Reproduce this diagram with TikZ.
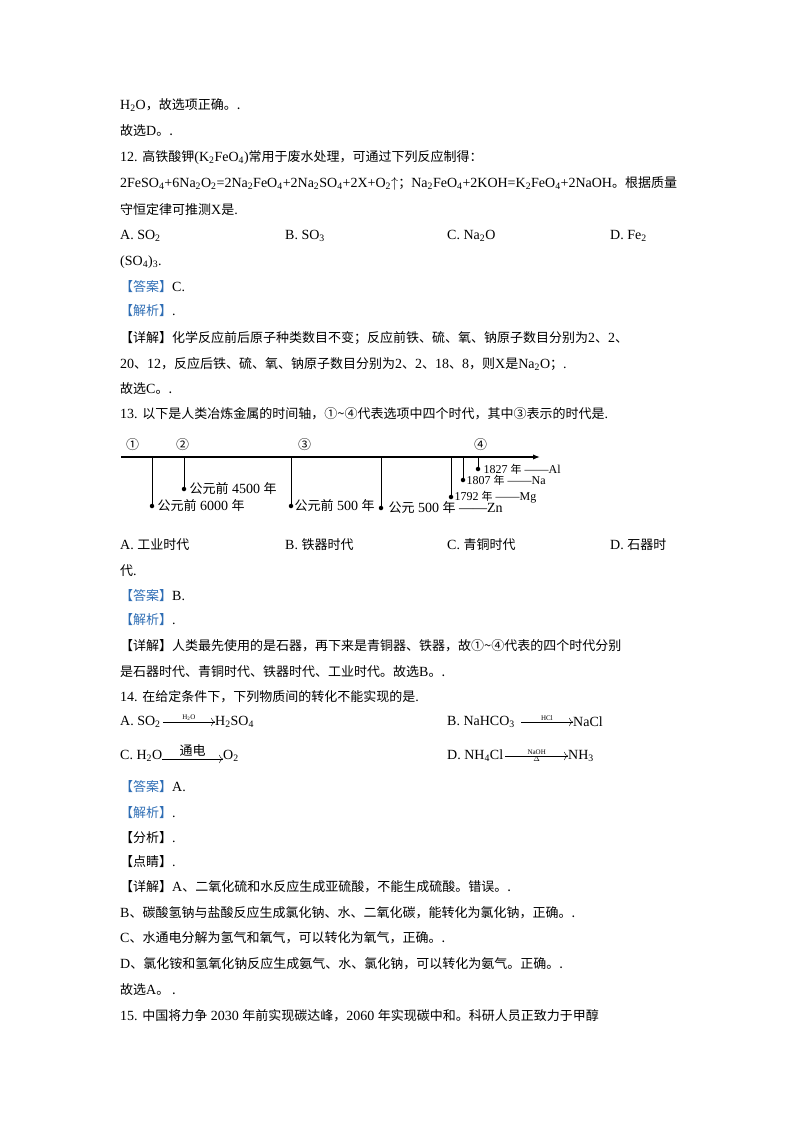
\documentclass[tikz,border=0pt]{standalone}
\usepackage{fontspec}
\usetikzlibrary{arrows.meta,positioning}
\setmainfont{Liberation Serif}
\newfontfamily\cjk{Noto Sans CJK SC}
\newcommand{\zh}[1]{{\cjk\fontsize{13}{15}\selectfont #1}}
\newcommand{\zhs}[1]{{\cjk\fontsize{11}{12}\selectfont #1}}
\newcommand{\lsub}[1]{\textsubscript{#1}}
\definecolor{ansblue}{HTML}{2E6DB4}
\begin{document}
\begin{tikzpicture}[x=1pt,y=-1pt,
  txt/.style={anchor=west,inner sep=0pt,font=\fontsize{14}{16}\selectfont},
  tl/.style={anchor=west,inner sep=0pt,font=\fontsize{14}{15}\selectfont},
  tls/.style={anchor=west,inner sep=0pt,font=\fontsize{12}{12}\selectfont},
  tick/.style={line width=1pt},
  dotm/.style={circle,fill=black,inner sep=0pt,minimum size=4.5pt},
  small/.style={inner sep=1pt,font=\fontsize{7}{8}\selectfont}]
\useasboundingbox (0,0) rectangle (800,1132);
\node[txt] (l1) at (120,105) {H\lsub{2}O\zh{，故选项正确。.}};
\node[txt] (l2) at (120,131) {\zh{故选}D\zh{。.}};
\node[txt] (l3) at (120,157) {12. \zh{高铁酸钾}(K\lsub{2}FeO\lsub{4})\zh{常用于废水处理，可通过下列反应制得：}};
\node[txt] (l4) at (120,183) {2FeSO\lsub{4}+6Na\lsub{2}O\lsub{2}=2Na\lsub{2}FeO\lsub{4}+2Na\lsub{2}SO\lsub{4}+2X+O\lsub{2}$\uparrow$\zh{；}Na\lsub{2}FeO\lsub{4}+2KOH=K\lsub{2}FeO\lsub{4}+2NaOH\zh{。根据质量}};
\node[txt] (l5) at (120,210) {\zh{守恒定律可推测}X\zh{是}.};
\node[txt] (o1) at (120,236) {A. SO\lsub{2}};
\node[txt] (o2) at (285,236) {B. SO\lsub{3}};
\node[txt] (o3) at (447,236) {C. Na\lsub{2}O};
\node[txt] (o4) at (610,236) {D. Fe\lsub{2}};
\node[txt] (l6) at (120,262) {(SO\lsub{4})\lsub{3}.};
\node[txt] (l7) at (120,287) {\zh{\color{ansblue}【答案】}C.};
\node[txt] (l8) at (120,311) {\zh{\color{ansblue}【解析】}.};
\node[txt] (l9) at (120,338) {\zh{【详解】化学反应前后原子种类数目不变；反应前铁、硫、氧、钠原子数目分别为}2\zh{、}2\zh{、}};
\node[txt] (l10) at (120,364) {20\zh{、}12\zh{，反应后铁、硫、氧、钠原子数目分别为}2\zh{、}2\zh{、}18\zh{、}8\zh{，则}X\zh{是}Na\lsub{2}O\zh{；}.};
\node[txt] (l11) at (120,389) {\zh{故选}C\zh{。.}};
\node[txt] (l12) at (120,414) {13. \zh{以下是人类冶炼金属的时间轴，①\textasciitilde④代表选项中四个时代，其中③表示的时代是}.};
% timeline
\coordinate (axs) at (121,457);
\coordinate (axe) at (540,457);
\draw[line width=1.2pt,-{Latex[length=7pt]}] (axs) -- (axe);
\node[tl] (c1) at (126,445) {\zh{①}};
\node[tl] (c2) at (176,445) {\zh{②}};
\node[tl] (c3) at (298,445) {\zh{③}};
\node[tl] (c4) at (474,445) {\zh{④}};
\foreach \n/\x/\y in {a/152/506,b/184/489,c/291/506,d/381/508,e/451/497,f/463/480,g/478/469}{
  \coordinate (t\n) at (\x,457);
  \node[dotm] (p\n) at (\x,\y) {};
  \draw[tick] (t\n) -- (p\n);
}
\node[tl,right=3pt of pa] (la) {\zh{公元前} 6000 \zh{年}};
\node[tl,right=3pt of pb] (lb) {\zh{公元前} 4500 \zh{年}};
\node[tl,right=1pt of pc] (lc) {\zh{公元前} 500 \zh{年}};
\node[tl,right=5pt of pd] (ld) {\zh{公元} 500 \zh{年} ——Zn};
\node[tls,right=1pt of pe] (le) {1792 \zhs{年} ——Mg};
\node[tls,right=1pt of pf] (lf) {1807 \zhs{年} ——Na};
\node[tls,right=3pt of pg] (lg) {1827 \zhs{年} ——Al};
\node[txt] (q1) at (120,545) {A. \zh{工业时代}};
\node[txt] (q2) at (285,545) {B. \zh{铁器时代}};
\node[txt] (q3) at (447,545) {C. \zh{青铜时代}};
\node[txt] (q4) at (610,545) {D. \zh{石器时}};
\node[txt] (m1) at (120,571) {\zh{代}.};
\node[txt] (m2) at (120,596) {\zh{\color{ansblue}【答案】}B.};
\node[txt] (m3) at (120,620) {\zh{\color{ansblue}【解析】}.};
\node[txt] (m4) at (120,646) {\zh{【详解】人类最先使用的是石器，再下来是青铜器、铁器，故①\textasciitilde④代表的四个时代分别}};
\node[txt] (m5) at (120,672) {\zh{是石器时代、青铜时代、铁器时代、工业时代。故选}B\zh{。.}};
\node[txt] (m6) at (120,697) {14. \zh{在给定条件下，下列物质间的转化不能实现的是}.};
% reactions
\node[txt] (ra1) at (120,722) {A. SO\lsub{2}};
\node[txt] (ra2) at (215,722) {H\lsub{2}SO\lsub{4}};
\draw[-{To[length=4pt]}] ([xshift=2pt]ra1.east) -- node[small,above] {H\lsub{2}O} (ra2.west);
\node[txt] (rb1) at (447,722) {B. NaHCO\lsub{3}};
\node[txt] (rb2) at (573,722) {NaCl};
\draw[-{To[length=4pt]}] ([xshift=6pt]rb1.east) -- node[small,above] {HCl} (rb2.west);
\node[txt] (rc1) at (120,756) {C. H\lsub{2}O};
\node[txt] (rc2) at (223,756) {O\lsub{2}};
\draw[-{To[length=4pt]}] ([yshift=-3pt]rc1.east) -- node[inner sep=2pt,above] {\zh{通电}} ([yshift=-3pt]rc2.west);
\node[txt] (rd1) at (447,756) {D. NH\lsub{4}Cl};
\node[txt] (rd2) at (568,756) {NH\lsub{3}};
\draw[-{To[length=4pt]}] ([xshift=2pt]rd1.east) -- node[small,above] {NaOH} node[small,below] {$\Delta$} (rd2.west);
\node[txt] (n1) at (120,787) {\zh{\color{ansblue}【答案】}A.};
\node[txt] (n2) at (120,813) {\zh{\color{ansblue}【解析】}.};
\node[txt] (n3) at (120,838) {\zh{【分析】}.};
\node[txt] (n4) at (120,862) {\zh{【点睛】}.};
\node[txt] (n5) at (120,887) {\zh{【详解】}A\zh{、二氧化硫和水反应生成亚硫酸，不能生成硫酸。错误。.}};
\node[txt] (n6) at (120,913) {B\zh{、碳酸氢钠与盐酸反应生成氯化钠、水、二氧化碳，能转化为氯化钠，正确。.}};
\node[txt] (n7) at (120,938) {C\zh{、水通电分解为氢气和氧气，可以转化为氧气，正确。.}};
\node[txt] (n8) at (120,964) {D\zh{、氯化铵和氢氧化钠反应生成氨气、水、氯化钠，可以转化为氨气。正确。.}};
\node[txt] (n9) at (120,990) {\zh{故选}A\zh{。 .}};
\node[txt] (n10) at (120,1016) {15. \zh{中国将力争} 2030 \zh{年前实现碳达峰，}2060 \zh{年实现碳中和。科研人员正致力于甲醇}};
\end{tikzpicture}
\end{document}
